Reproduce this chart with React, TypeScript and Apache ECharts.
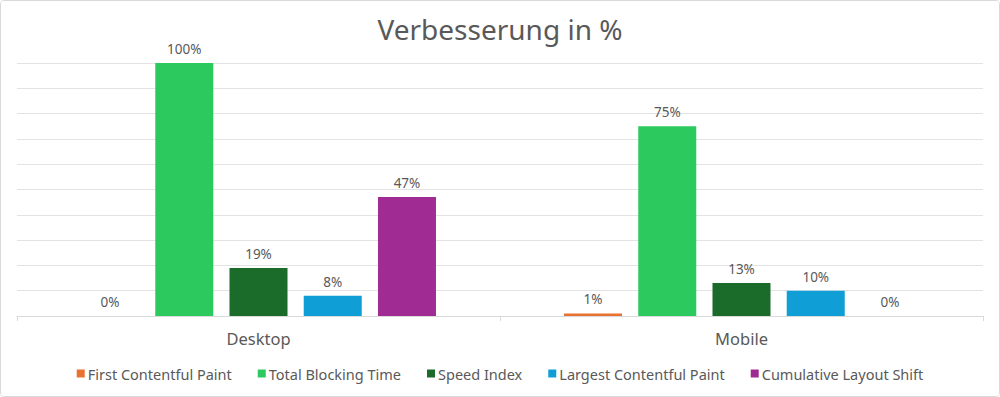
import React, { useEffect, useRef } from "react";
import * as echarts from "echarts";

const categories = ["Desktop", "Mobile"];
const seriesNames = [
  "First Contentful Paint",
  "Total Blocking Time",
  "Speed Index",
  "Largest Contentful Paint",
  "Cumulative Layout Shift",
];
const fcp = [0, 1];
const tbt = [100, 75];
const speedIndex = [19, 13];
const lcp = [8, 10];
const cls = [47, 0];
const colors = ["#E97132", "#2CC95E", "#1B6B2A", "#0F9ED5", "#A02B93"];

const FONT = "'Noto Sans', 'Open Sans', sans-serif";
const TEXT = "#595959";

export default function App() {
  const ref = useRef<HTMLDivElement>(null);
  useEffect(() => {
    document.body.style.margin = "0";
    const chart = echarts.init(ref.current!, null, { renderer: "svg" });
    const values = [fcp, tbt, speedIndex, lcp, cls];
    chart.setOption({
      animation: false,
      backgroundColor: "#ffffff",
      title: {
        text: "Verbesserung in %",
        left: "center",
        top: 9,
        textStyle: { fontFamily: FONT, fontSize: 28, fontWeight: "normal", color: TEXT },
      },
      legend: {
        bottom: 10,
        left: "center",
        itemWidth: 8,
        itemHeight: 8,
        itemGap: 26,
        icon: "rect",
        data: seriesNames,
        textStyle: { fontFamily: FONT, fontSize: 14.5, color: TEXT, padding: [0, 0, 0, -2] },
      },
      grid: { left: 16, right: 16, top: 62, bottom: 80, containLabel: false },
      xAxis: {
        type: "category",
        data: categories,
        axisLine: { lineStyle: { color: "#d9d9d9" } },
        axisTick: { show: true, length: 5, lineStyle: { color: "#d9d9d9" } },
        axisLabel: { fontFamily: FONT, fontSize: 16.5, color: TEXT, margin: 14 },
      },
      yAxis: {
        type: "value",
        min: 0,
        max: 100,
        interval: 10,
        axisLabel: { show: false },
        axisLine: { show: false },
        axisTick: { show: false },
        splitLine: { lineStyle: { color: "#e3e3e3" } },
      },
      series: seriesNames.map((name, i) => ({
        name,
        type: "bar",
        data: values[i],
        barWidth: 58,
        barGap: "28%",
        itemStyle: { color: colors[i] },
        label: {
          show: true,
          position: "top",
          distance: 7,
          formatter: "{c}%",
          fontFamily: FONT,
          fontSize: 13.5,
          color: TEXT,
        },
      })),
    });
    return () => chart.dispose();
  }, []);
  return (
    <div
      ref={ref}
      style={{
        position: "absolute",
        left: 0,
        top: 0,
        width: 1000,
        height: 397,
        boxSizing: "border-box",
        border: "1px solid #d9d9d9",
        borderRadius: 4,
        overflow: "hidden",
      }}
    />
  );
}
